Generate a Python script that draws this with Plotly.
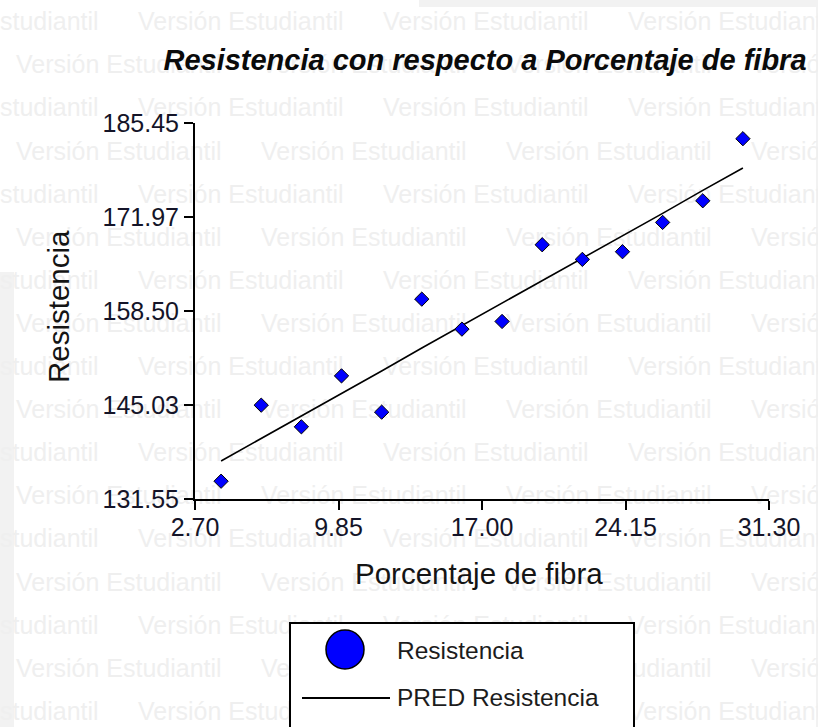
import plotly.graph_objects as go

# datos
fibra = [4, 6, 8, 10, 12, 14, 16, 18, 20, 22, 24, 26, 28, 30]
resistencia = [134.1, 145.0, 141.9, 149.2, 144.0, 160.2, 155.9, 157.0,
               168.0, 165.9, 167.0, 171.2, 174.3, 183.2]
pred_resistencia = [137.0, 140.2, 143.5, 146.7, 149.9, 153.2, 156.4,
                    159.6, 162.8, 166.1, 169.3, 172.5, 175.8, 179.0]

x_ticks = [2.70, 9.85, 17.00, 24.15, 31.30]
y_ticks = [131.55, 145.025, 158.50, 171.975, 185.45]
x_labels = ["2.70", "9.85", "17.00", "24.15", "31.30"]
y_labels = ["131.55", "145.03", "158.50", "171.97", "185.45"]

W, H = 818, 727
FONT = "Liberation Sans, Arial, sans-serif"
WM = "Versión Estudiantil"

# marca de agua (capa de fondo, ejes en pixeles)
wm_x, wm_y = [], []
for i in range(17):
    y = 24 + 43.1 * i
    x0 = -107 if i % 2 == 0 else 16
    for k in range(5):
        x = x0 + 245 * k
        if x < W:
            wm_x.append(x)
            wm_y.append(y)

fig = go.Figure()

fig.add_trace(go.Scatter(
    x=wm_x, y=wm_y, text=[WM] * len(wm_x), mode="text",
    textposition="middle right",
    textfont=dict(family=FONT, size=25, color="#efefef"),
    hoverinfo="skip", showlegend=False, xaxis="x", yaxis="y",
))

fig.add_trace(go.Scatter(
    x=fibra, y=pred_resistencia, mode="lines",
    line=dict(color="black", width=1.6),
    name="PRED Resistencia", showlegend=False, xaxis="x2", yaxis="y2",
))

fig.add_trace(go.Scatter(
    x=fibra, y=resistencia, mode="markers",
    marker=dict(symbol="diamond", size=11, color="#0000ff",
                line=dict(color="black", width=1)),
    name="Resistencia", showlegend=False, xaxis="x2", yaxis="y2",
))

axis_common = dict(
    showline=True, linecolor="black", linewidth=2,
    ticks="outside", ticklen=9, tickwidth=2, tickcolor="black",
    showgrid=False, zeroline=False,
    tickfont=dict(family=FONT, size=25, color="#141428"),
)

shapes = [
    # franjas grises del recorte
    dict(type="rect", xref="x", yref="y", x0=419, x1=W, y0=0, y1=7,
         fillcolor="#f2f2f2", line_width=0, layer="below"),
    dict(type="rect", xref="x", yref="y", x0=0, x1=14, y0=272, y1=H,
         fillcolor="#f2f2f2", line_width=0, layer="below"),
    dict(type="rect", xref="x", yref="y", x0=816, x1=W, y0=0, y1=H,
         fillcolor="#f2f2f2", line_width=0, layer="below"),
    # leyenda
    dict(type="rect", xref="x", yref="y", x0=290, x1=634, y0=623, y1=740,
         fillcolor="white", line=dict(color="black", width=2), layer="above"),
    dict(type="circle", xref="x", yref="y", x0=326, x1=364, y0=630, y1=669,
         fillcolor="#0000ff", line=dict(color="black", width=1.5), layer="above"),
    dict(type="line", xref="x", yref="y", x0=302, x1=390, y0=698, y1=698,
         line=dict(color="black", width=2), layer="above"),
]

annotations = [
    dict(text="Porcentaje de fibra", x=479, y=573, xref="x", yref="y",
         showarrow=False, font=dict(family=FONT, size=29.5, color="#141414")),
    dict(text="Resistencia", x=58, y=307, xref="x", yref="y", textangle=-90,
         showarrow=False, font=dict(family=FONT, size=29.5, color="#141414")),
    dict(text="Resistencia", x=395, y=650, xref="x", yref="y", xanchor="left",
         showarrow=False, font=dict(family=FONT, size=24.5, color="#1c1c1c")),
    dict(text="PRED Resistencia", x=395, y=697, xref="x", yref="y", xanchor="left",
         showarrow=False, font=dict(family=FONT, size=24.5, color="#1c1c1c")),
]

fig.update_layout(
    width=W, height=H,
    margin=dict(l=0, r=0, t=0, b=0, pad=0, autoexpand=False),
    paper_bgcolor="white", plot_bgcolor="rgba(0,0,0,0)",
    title=dict(text="Resistencia con respecto a Porcentaje de fibra",
               x=485 / W, xanchor="center", xref="paper",
               y=1 - 60 / H, yanchor="middle", yref="container",
               font=dict(family=FONT, size=29, color="#0a0a0a",
                         weight="bold", style="italic")),
    xaxis=dict(domain=[0, 1], range=[0, W], visible=False, fixedrange=True),
    yaxis=dict(domain=[0, 1], range=[H, 0], visible=False, fixedrange=True),
    xaxis2=dict(domain=[195 / W, 769 / W], anchor="y2", range=[2.70, 31.30],
                tickvals=x_ticks, ticktext=x_labels, ticklabelstandoff=-4,
                **axis_common),
    yaxis2=dict(domain=[1 - 499 / H, 1 - 123 / H], anchor="x2",
                range=[131.55, 185.45],
                tickvals=y_ticks, ticktext=y_labels, **axis_common),
    shapes=shapes,
    annotations=annotations,
    showlegend=False,
)

# sin margen del body para que la figura empiece en (0, 0)
fig.write_html("out.html", config={"displayModeBar": False},
               post_script="document.body.style.margin = '0';")
